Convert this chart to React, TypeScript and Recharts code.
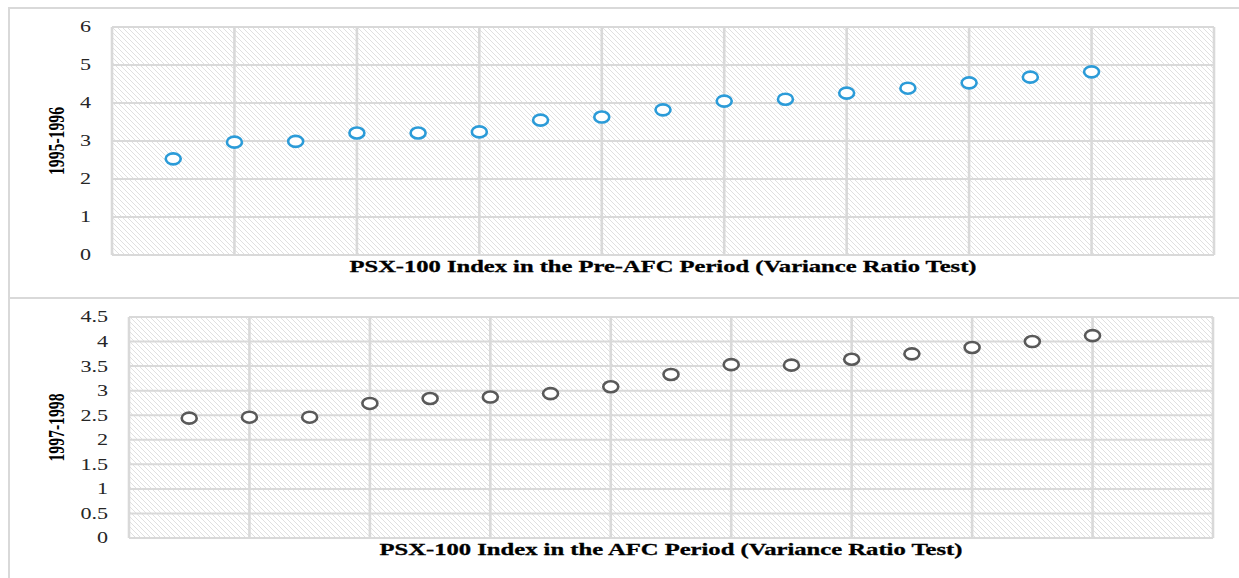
import React from 'react';
import { ScatterChart, Scatter, XAxis, YAxis, CartesianGrid } from 'recharts';

// observation number along the (unlabelled) horizontal axis
const obsIndex = [1, 2, 3, 4, 5, 6, 7, 8, 9, 10, 11, 12, 13, 14, 15, 16];
const xGridTicks = [0, 2, 4, 6, 8, 10, 12, 14, 16, 18];

// variance ratios, 1995-1996 (pre-AFC)
const preAfcRatios = [2.53, 2.97, 2.99, 3.21, 3.21, 3.24, 3.55, 3.63, 3.82, 4.05, 4.1, 4.26, 4.39, 4.53, 4.68, 4.82];
const preAfcTicks = [0, 1, 2, 3, 4, 5, 6];

// variance ratios, 1997-1998 (AFC)
const afcRatios = [2.44, 2.46, 2.46, 2.74, 2.84, 2.87, 2.94, 3.08, 3.33, 3.53, 3.52, 3.64, 3.75, 3.88, 4.0, 4.12];
const afcTicks = [0, 0.5, 1, 1.5, 2, 2.5, 3, 3.5, 4, 4.5];

const SERIF = '"Liberation Serif", "Times New Roman", serif';
const STRETCH = 1.38; // source image is stretched horizontally
const GRID = '#d9d9d9';

const YTick = ({ x, y, payload }: any) => (
  <text
    x={0}
    y={0}
    transform={`translate(${x},${y}) scale(${STRETCH},1)`}
    textAnchor="end"
    dominantBaseline="central"
    fontFamily={SERIF}
    fontSize={16}
    fill="#262626"
  >
    {payload.value}
  </text>
);

// x ticks carry no labels, they only place the vertical grid lines
const NoTick = () => <g />;

const XTitle = ({ viewBox, text, len }: any) => {
  const { x, y, width } = viewBox;
  return (
    <text
      x={x + width / 2}
      y={y + 17}
      textAnchor="middle"
      fontFamily={SERIF}
      fontWeight="bold"
      fontSize={16.5}
      fill="#000"
      stroke="#000"
      strokeWidth={0.3}
      textLength={len}
      lengthAdjust="spacingAndGlyphs"
    >
      {text}
    </text>
  );
};

const YTitle = ({ viewBox, text }: any) => {
  const { x, y, height } = viewBox;
  return (
    <text
      x={0}
      y={0}
      transform={`translate(${x + 57},${y + height / 2}) scale(${STRETCH},1) rotate(-90)`}
      textAnchor="middle"
      dominantBaseline="central"
      fontFamily={SERIF}
      fontWeight="bold"
      fontSize={16}
      fill="#000"
      textLength={68}
      lengthAdjust="spacingAndGlyphs"
    >
      {text}
    </text>
  );
};

const ringShape = (color: string) => (props: any) => (
  <ellipse cx={props.cx} cy={props.cy} rx={7.5} ry={5.5} fill="#fff" stroke={color} strokeWidth={2.6} />
);

type PanelProps = {
  id: string;
  values: number[];
  ticks: number[];
  max: number;
  color: string;
  yLabel: string;
  title: string;
  titleLen: number;
  height: number;
  top: number;
  bottom: number;
  left: number;
  right: number;
};

function RatioPanel(p: PanelProps) {
  const data = obsIndex.map((idx, i) => ({ idx, ratio: p.values[i] }));
  return (
    <ScatterChart width={1239} height={p.height} margin={{ top: p.top, right: p.right, bottom: 0, left: 0 }}>
      <defs>
        <pattern id={p.id} width={5} height={5} patternUnits="userSpaceOnUse">
          <rect width={5} height={5} fill="#fff" />
          <path d="M0,0 L5,5 M-1,4 L1,6 M4,-1 L6,1" stroke="#d2d2d2" strokeWidth={0.7} />
        </pattern>
      </defs>
      <CartesianGrid vertical={false} stroke={GRID} strokeWidth={2} fill={`url(#${p.id})`} fillOpacity={1} />
      <CartesianGrid horizontal={false} stroke={GRID} strokeWidth={2.6} />
      <XAxis
        type="number"
        dataKey="idx"
        domain={[0, 18]}
        ticks={xGridTicks}
        interval={0}
        tick={<NoTick />}
        tickLine={false}
        axisLine={false}
        height={p.bottom}
        label={<XTitle text={p.title} len={p.titleLen} />}
      />
      <YAxis
        type="number"
        dataKey="ratio"
        domain={[0, p.max]}
        ticks={p.ticks}
        interval={0}
        width={p.left}
        tick={<YTick />}
        tickSize={0}
        tickMargin={21}
        tickLine={false}
        axisLine={false}
        label={<YTitle text={p.yLabel} />}
      />
      <Scatter data={data} shape={ringShape(p.color)} isAnimationActive={false} />
    </ScatterChart>
  );
}

export default function App() {
  const line = (style: React.CSSProperties) => (
    <div style={{ position: 'absolute', background: GRID, ...style }} />
  );
  return (
    <div style={{ position: 'absolute', left: 0, top: 0, width: 1239, height: 578, background: '#fff', overflow: 'hidden' }}>
      <div style={{ position: 'absolute', left: 0, top: 0 }}>
        <RatioPanel
          id="hatchPre"
          values={preAfcRatios}
          ticks={preAfcTicks}
          max={6}
          color="#2b9bd8"
          yLabel="1995-1996"
          title="PSX-100 Index in the Pre-AFC Period (Variance Ratio Test)"
          titleLen={627}
          height={297}
          top={27}
          bottom={42}
          left={112}
          right={25}
        />
      </div>
      <div style={{ position: 'absolute', left: 0, top: 297 }}>
        <RatioPanel
          id="hatchAfc"
          values={afcRatios}
          ticks={afcTicks}
          max={4.5}
          color="#595959"
          yLabel="1997-1998"
          title="PSX-100 Index in the AFC Period (Variance Ratio Test)"
          titleLen={583}
          height={281}
          top={20}
          bottom={40}
          left={129}
          right={26}
        />
      </div>
      {line({ left: 9, top: 7, width: 1230, height: 1.5 })}
      {line({ left: 8, top: 7, width: 1.5, height: 571 })}
      {line({ left: 9, top: 297, width: 1230, height: 1.5 })}
    </div>
  );
}
